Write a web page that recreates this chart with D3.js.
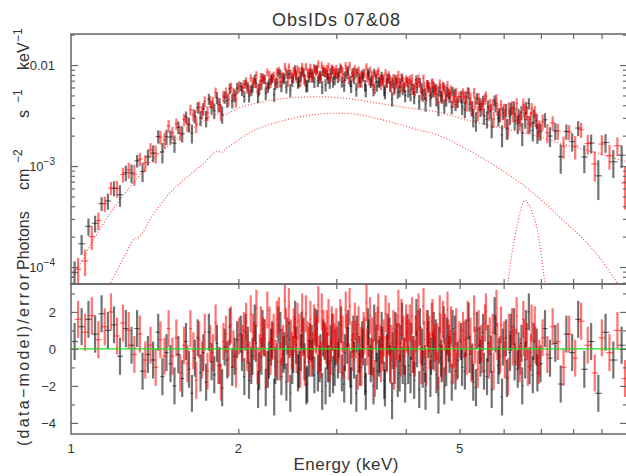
<!DOCTYPE html>
<html><head><meta charset="utf-8">
<script src="https://cdn.jsdelivr.net/npm/d3@7"></script>
<style>
body{margin:0;background:#fff}
svg{display:block}
text{font-family:"Liberation Sans",Arial,Helvetica,sans-serif;fill:#333}
</style>
</head><body>
<svg id="c" width="626" height="476"></svg>
<script>
// ---------------- data ----------------
const title = "ObsIDs 07&08";
const xLabel = "Energy (keV)";
const xTickLabels = [1, 2, 5];
const xMinorTicks = [2, 3, 4, 5, 6, 7, 8, 9];
// flux values are in units of 1e-3 photons cm^-2 s^-1 keV^-1
const fluxMajorTicks = [0.1, 1, 10];
const fluxTickText = [["10", "\u22124"], ["10", "\u22123"], ["0.01", ""]];
const fluxMinorTicks = [0.07,0.08,0.09,0.2,0.3,0.4,0.5,0.6,0.7,0.8,0.9,2,3,4,5,6,7,8,9,20];
const residMajorTicks = [-4, -2, 0, 2];
const residMinorTicks = [-3, -1, 1, 3];

// ObsID 07 (black) - channel group 1 (full band)
const blackE = [1.015,1.045,1.075,1.105,1.135,1.165,1.195,1.225,1.255,1.285,1.315,1.345,1.375,1.405,1.435,1.46,1.485,
1.51,1.535,1.56,1.585,1.61,1.63,1.65,1.67,1.69,1.71,1.73,1.75,1.77,1.79,1.81,1.83,1.85,1.87,1.89,1.91,1.93,1.95,1.97,1.99,
2.02,2.05,2.08,2.11,2.14,2.17,2.20,2.23,2.26,2.29,2.32,2.35,2.38,2.41,2.44,2.47,2.50,2.53,2.56,2.59,2.62,2.65,2.68,2.71,2.74,2.77,2.80,2.83,2.86,2.89,2.92,2.95,2.98,
3.02,3.06,3.10,3.14,3.18,3.22,3.26,3.30,3.34,3.38,3.42,3.46,3.50,3.54,3.58,3.62,3.66,3.70,3.74,3.78,3.82,3.86,3.90,3.94,3.98,
4.03,4.08,4.13,4.18,4.23,4.28,4.33,4.38,4.43,4.48,4.53,4.58,4.63,4.68,4.73,4.78,4.84,4.90,4.96,
5.03,5.11,5.19,5.27,5.35,5.43,5.51,5.60,5.69,5.78,5.87,5.96,6.06,6.16,6.26,6.36,6.46,6.56,6.66,6.77,6.88,6.99,
7.12,7.27,7.43,7.60,7.78,7.97,8.17,8.38,8.62,8.88,9.15,9.45,9.78];
const blackFlux = [0.088,0.17,0.253,0.271,0.425,0.451,0.604,0.52,0.857,0.856,1.126,0.882,1.234,1.347,1.96,1.38,1.95,
1.94,1.68,2.42,2.09,3.06,2.58,2.12,3.12,3.79,2.99,3.69,2.96,4.61,3.83,3.53,4.74,4.07,3.26,4.79,4.44,5.84,4.43,5.0,5.89,
6.15,4.89,6.13,5.59,7.33,4.92,6.4,7.25,6.06,7.13,5.1,6.69,8.21,7.25,6.06,8.07,6.93,9.11,6.68,7.68,8.51,6.21,7.56,8.32,6.8,9.08,7.39,6.05,8.49,8.04,6.71,8.9,7.21,
7.52,9.14,6.31,8.12,6.94,8.54,5.72,7.44,8.04,6.3,8.45,6.73,5.7,7.44,6.73,7.8,5.66,6.72,7.31,4.63,5.94,6.81,5.53,7.42,6.02,
6.87,5.1,5.83,7.19,4.34,5.89,5.2,6.43,4.53,5.46,5.86,3.76,4.98,6.01,4.49,5.18,3.84,5.24,4.33,
4.86,3.65,5.3,3.76,2.8,4.09,4.39,2.91,3.47,4.48,2.97,2.03,3.58,3.09,3.83,2.61,3.39,2.88,4.16,2.25,2.8,2.21,
2.87,1.98,2.23,1.24,2.2,1.75,2.38,1.23,1.69,0.8,1.71,1.1,1.28];
const blackErr = [.026,.038,.049,.051,.066,.081,.103,.125,.152,.18,.16,.19,.22,.255,.29,.32,.34,
.305,.33,.35,.38,.41,.43,.45,.47,.49,.51,.53,.55,.57,.6,.62,.64,.65,.64,.66,.68,.7,.72,.74,.77,
.62,.64,.66,.68,.7,.72,.74,.75,.76,.78,.79,.8,.81,.83,.83,.84,.85,.85,.86,.86,.87,.87,.88,.89,.89,.89,.89,.89,.89,.89,.89,.89,.89,
.89,.88,.88,.87,.87,.86,.86,.85,.84,.83,.82,.81,.8,.79,.78,.77,.76,.76,.75,.74,.73,.72,.71,.7,.69,
.74,.73,.73,.72,.71,.7,.69,.68,.67,.66,.66,.65,.64,.62,.61,.6,.59,.57,.56,
.69,.67,.65,.63,.61,.6,.58,.56,.55,.53,.51,.5,.55,.54,.54,.54,.55,.54,.53,.5,.47,.43,
.47,.44,.42,.4,.38,.36,.4,.38,.36,.34,.36,.34,.32];
const blackResid = [0.4,1.2,1.6,0.8,1.9,1.0,1.3,-0.4,1.1,0.2,1.1,-1.2,-0.3,-0.6,0.9,-1.5,-0.2,
-0.8,-2.0,-0.3,-1.6,0.4,-1.1,-2.4,-0.5,0.6,-1.3,-0.2,-1.8,0.9,-0.7,-1.4,0.3,-0.9,-2.1,0.1,-0.6,1.2,-1.0,-0.4,0.5,
0.8,-1.5,0.2,-0.9,1.4,-2.2,-0.4,0.6,-1.1,0.1,-2.6,-0.7,1.0,-0.3,-1.8,0.5,-0.9,1.6,-1.3,-0.2,0.7,-2.0,-0.5,0.3,-1.4,1.1,-0.8,-2.3,0.4,-0.1,-1.6,0.9,-1.0,
-0.6,1.3,-1.9,0.2,-1.1,0.8,-2.4,-0.3,0.5,-1.5,1.2,-0.8,-2.0,0.3,-0.5,1.0,-1.7,-0.2,0.7,-2.8,-0.9,0.4,-1.3,1.5,-0.4,
0.9,-1.4,-0.3,1.7,-2.2,0.1,-0.8,1.1,-1.6,-0.1,0.6,-2.5,-0.5,1.3,-1.0,0.3,-1.8,0.8,-0.6,
0.4,-1.2,1.5,-0.7,-2.1,0.2,0.9,-1.5,-0.3,1.8,-0.9,-2.6,0.6,-0.2,1.2,-1.1,0.3,-0.6,2.0,-1.4,0.1,-0.8,
1.1,-0.5,0.3,-1.9,0.8,-0.2,1.6,-1.1,0.4,-2.4,0.9,-0.6,0.2];
// ObsID 07 (black) - channel group 2 (extra channels, 2-7 keV)
const blackMidE = [2.03,2.06,2.09,2.12,2.15,2.18,2.21,2.24,2.27,2.30,2.33,2.36,2.39,2.42,2.45,2.48,2.51,2.54,2.57,2.60,2.63,2.66,2.69,2.72,2.75,2.78,2.81,2.84,2.87,2.90,2.93,2.96,2.99,
3.03,3.07,3.11,3.15,3.19,3.23,3.27,3.31,3.35,3.39,3.43,3.47,3.51,3.55,3.59,3.63,3.67,3.71,3.75,3.79,3.83,3.87,3.91,3.95,3.99,
4.042,4.092,4.142,4.192,4.242,4.292,4.342,4.392,4.442,4.492,4.542,4.592,4.642,4.692,4.742,4.795,4.855,4.915,
5.05,5.13,5.21,5.29,5.37,5.45,5.53,5.62,5.71,5.80,5.89,5.98,6.08,6.18,6.28,6.38,6.48,6.58,6.68,6.79,6.90];
const blackMidFlux = [5.57,6.49,4.93,5.97,6.61,5.71,7.54,5.25,6.49,7.47,6.47,8.34,6.2,7.44,8.16,5.65,7.46,7.94,6.87,8.74,7.31,6.3,8.37,7.6,9.14,6.94,7.92,8.65,6.35,7.42,8.39,6.85,8.17,
8.48,6.86,7.79,8.9,6.15,7.31,8.44,6.84,7.68,5.62,7.94,7.04,8.39,6.23,6.87,7.16,5.33,7.53,6.17,6.61,7.3,5.35,6.64,5.72,4.97,
5.51,6.39,4.81,5.95,6.73,5.03,4.14,6.0,5.31,6.17,4.53,5.5,4.77,3.93,5.5,4.79,5.51,4.07,
3.87,4.82,4.1,3.04,4.66,3.65,3.14,3.89,2.42,3.93,3.21,3.36,2.36,3.69,2.8,3.15,2.12,3.78,2.61,3.12,2.12];
const blackMidErr = [.63,.65,.67,.69,.7,.72,.74,.75,.76,.78,.79,.8,.82,.83,.83,.84,.85,.85,.86,.87,.87,.88,.88,.89,.89,.89,.89,.89,.89,.89,.89,.89,.89,
.88,.88,.88,.87,.87,.86,.85,.84,.84,.83,.82,.81,.8,.79,.78,.77,.76,.75,.74,.73,.72,.72,.71,.7,.69,
.74,.73,.72,.71,.71,.7,.69,.68,.67,.66,.65,.64,.63,.62,.61,.6,.58,.57,
.68,.66,.64,.63,.61,.59,.58,.56,.54,.53,.51,.5,.55,.54,.54,.54,.55,.54,.52,.5,.46];
const blackMidResid = [-0.2,0.9,-1.7,-0.4,0.3,-1.2,1.1,-2.1,-0.6,0.5,-0.9,1.3,-1.5,-0.1,0.7,-2.4,-0.3,0.2,-1.1,1.0,-0.7,-1.9,0.4,-0.5,1.2,-1.3,-0.2,0.6,-2.0,-0.8,0.3,-1.4,0.1,
0.5,-1.3,-0.2,1.1,-2.0,-0.6,0.8,-1.0,0.1,-2.3,0.6,-0.4,1.4,-1.2,-0.3,0.2,-2.1,0.9,-0.8,-0.1,1.0,-1.6,0.3,-0.9,-1.9,
-0.9,0.4,-1.7,0.0,1.2,-1.1,-2.3,0.5,-0.4,1.0,-1.4,0.2,-0.8,-2.0,0.7,-0.3,1.1,-1.2,
-1.0,0.6,-0.3,-1.8,1.0,-0.5,-1.2,0.3,-2.2,0.8,-0.4,0.1,-1.6,0.9,-0.7,-0.1,-2.0,1.1,-0.9,0.4,-1.3];

// ObsID 08 (red) - channel group 1 (full band)
const redE = [1.03,1.06,1.09,1.12,1.15,1.18,1.21,1.24,1.27,1.30,1.33,1.36,1.39,1.42,1.448,1.473,1.498,
1.522,1.547,1.572,1.597,1.62,1.64,1.66,1.68,1.70,1.72,1.74,1.76,1.78,1.80,1.82,1.84,1.86,1.88,1.90,1.92,1.94,1.96,1.98,2.005,
2.035,2.065,2.095,2.125,2.155,2.185,2.215,2.245,2.275,2.305,2.335,2.365,2.395,2.425,2.455,2.485,2.515,2.545,2.575,2.605,2.635,2.665,2.695,2.725,2.755,2.785,2.815,2.845,2.875,2.905,2.935,2.965,
3.0,3.04,3.08,3.12,3.16,3.20,3.24,3.28,3.32,3.36,3.40,3.44,3.48,3.52,3.56,3.60,3.64,3.68,3.72,3.76,3.80,3.84,3.88,3.92,3.96,4.005,
4.055,4.105,4.155,4.205,4.255,4.305,4.355,4.405,4.455,4.505,4.555,4.605,4.655,4.705,4.755,4.81,4.87,4.93,4.995,
5.07,5.15,5.23,5.31,5.39,5.47,5.555,5.645,5.735,5.825,5.915,6.01,6.11,6.21,6.31,6.41,6.51,6.61,6.715,6.825,6.935,7.05,
7.19,7.35,7.51,7.69,7.87,8.07,8.27,8.50,8.75,9.01,9.30,9.61,9.92];
const redFlux = [0.095,0.115,0.2,0.289,0.424,0.604,0.60,0.825,0.915,0.831,1.17,1.078,1.448,1.328,1.932,1.808,2.493,
2.12,2.62,2.13,2.88,2.63,3.6,3.22,2.6,3.83,3.41,4.36,3.35,4.34,4.21,5.35,4.02,3.43,4.92,5.32,4.58,5.99,5.22,4.56,6.13,
5.94,6.9,5.7,6.89,7.98,6.45,7.27,6.02,7.97,7.41,6.8,8.78,7.53,9.68,6.93,8.18,8.74,7.52,8.59,9.62,7.05,8.41,9.43,7.96,8.79,10.24,7.57,9.1,8.31,9.64,7.76,8.9,
9.14,7.77,8.7,9.82,7.31,8.32,9.11,6.72,7.83,8.41,9.58,7.09,7.91,5.97,8.19,7.31,6.84,8.35,7.27,6.07,7.45,6.56,8.04,6.05,6.89,7.22,
6.61,7.4,5.65,6.72,6.0,7.38,5.02,6.18,6.57,5.37,5.68,6.57,4.81,5.71,6.33,4.95,4.32,5.4,4.88,
5.2,4.12,4.71,5.32,3.36,4.1,4.61,3.36,4.07,4.62,3.23,3.57,2.4,3.85,3.24,2.78,4.1,3.37,2.92,3.47,2.24,2.74,
2.14,2.68,2.22,1.57,2.17,1.57,2.29,1.67,1.05,1.65,1.27,1.59,0.68];
const redErr = [.028,.034,.052,.057,.074,.092,.114,.139,.165,.196,.175,.204,.238,.272,.303,.33,.357,
.315,.34,.36,.39,.42,.44,.46,.48,.5,.52,.54,.56,.58,.61,.63,.64,.64,.65,.67,.69,.71,.73,.76,.78,
.63,.65,.67,.69,.71,.73,.74,.75,.77,.78,.79,.81,.82,.83,.84,.84,.85,.86,.86,.87,.87,.88,.88,.89,.89,.89,.89,.89,.89,.89,.89,.89,
.89,.88,.88,.88,.87,.87,.86,.85,.84,.83,.83,.82,.81,.8,.79,.78,.77,.76,.75,.74,.73,.72,.71,.71,.7,.69,
.74,.73,.72,.71,.7,.69,.69,.68,.67,.66,.65,.64,.63,.62,.61,.59,.58,.57,.55,
.68,.66,.64,.62,.6,.59,.57,.56,.54,.52,.51,.56,.55,.54,.54,.55,.55,.54,.51,.48,.45,.49,
.46,.43,.41,.39,.37,.41,.39,.37,.35,.37,.35,.33,.31];
const redResid = [1.6,0.9,1.8,0.5,1.2,2.0,0.7,1.4,1.0,-0.3,0.8,-0.6,0.2,-1.0,0.5,-0.4,1.1,
-0.4,0.6,-1.3,0.2,-0.8,1.1,-0.1,-1.7,0.5,-0.6,0.9,-1.2,0.3,-0.2,1.4,-0.9,-1.8,0.4,0.8,-0.5,1.3,0.0,-1.1,0.7,
0.3,1.5,-0.6,0.9,2.2,-0.2,0.7,-1.1,1.3,0.4,-0.5,1.8,0.1,2.6,-0.8,0.6,1.2,-0.3,0.9,2.0,-1.0,0.5,1.6,-0.1,0.8,2.4,-0.6,1.1,0.2,1.7,-0.4,0.9,
1.2,-0.3,0.8,2.1,-0.7,0.5,1.5,-1.2,0.2,1.0,2.5,-0.4,0.7,-1.6,1.3,0.3,-0.2,1.9,0.6,-0.9,1.1,0.0,2.2,-0.5,0.8,1.4,
0.6,1.8,-0.5,1.1,0.2,2.3,-1.0,0.8,1.5,-0.2,0.4,1.9,-0.7,0.9,2.1,0.0,-0.9,1.2,0.5,
1.0,-0.4,0.7,1.9,-1.1,0.3,1.4,-0.6,0.9,2.2,-0.3,0.5,-1.5,1.2,0.1,-0.8,1.6,0.4,-0.2,1.3,-0.9,0.6,
-0.3,1.2,0.4,-1.0,0.8,-0.5,1.5,0.2,-1.3,0.6,-0.2,1.0,-1.6];
// ObsID 08 (red) - channel group 2 (extra channels, 2-7 keV)
const redMidE = [2.045,2.075,2.105,2.135,2.165,2.195,2.225,2.255,2.285,2.315,2.345,2.375,2.405,2.435,2.465,2.495,2.525,2.555,2.585,2.615,2.645,2.675,2.705,2.735,2.765,2.795,2.825,2.855,2.885,2.915,2.945,2.975,
3.01,3.05,3.09,3.13,3.17,3.21,3.25,3.29,3.33,3.37,3.41,3.45,3.49,3.53,3.57,3.61,3.65,3.69,3.73,3.77,3.81,3.85,3.89,3.93,3.97,4.015,
4.068,4.118,4.168,4.218,4.268,4.318,4.368,4.418,4.468,4.518,4.568,4.618,4.668,4.718,4.77,4.825,4.885,4.945,
5.09,5.17,5.25,5.33,5.41,5.49,5.575,5.665,5.755,5.845,5.935,6.03,6.13,6.23,6.33,6.43,6.53,6.63,6.735,6.845,6.955];
const redMidFlux = [6.46,5.85,7.44,6.6,5.84,7.6,7.23,8.48,6.69,7.83,8.51,6.79,7.73,8.55,9.56,7.61,8.42,9.08,6.89,8.42,9.59,8.17,7.59,9.31,8.71,7.83,9.89,8.57,9.11,7.42,9.28,8.45,
8.24,9.52,7.46,8.75,9.91,7.69,8.23,8.83,6.8,8.14,7.56,8.86,6.91,8.03,8.72,6.44,7.43,6.66,7.93,6.94,5.75,7.19,6.74,7.58,6.03,6.78,
7.18,5.85,6.57,7.34,5.21,6.12,6.44,5.55,6.69,5.68,4.62,5.91,6.24,4.88,5.39,5.7,4.81,4.3,
4.83,5.39,3.73,4.23,4.66,3.73,4.92,4.06,2.92,3.67,4.01,2.94,3.72,3.25,4.16,3.0,3.54,2.6,3.7,2.92,2.39];
const redMidErr = [.64,.66,.68,.7,.71,.73,.75,.76,.77,.78,.8,.81,.82,.83,.84,.85,.85,.86,.86,.87,.87,.88,.88,.89,.89,.89,.89,.89,.89,.89,.89,.89,
.89,.88,.88,.88,.87,.86,.86,.85,.84,.83,.82,.81,.81,.8,.79,.78,.77,.76,.75,.74,.73,.72,.71,.7,.69,.69,
.74,.73,.72,.71,.7,.69,.68,.67,.67,.66,.65,.64,.63,.62,.6,.59,.58,.56,
.67,.65,.63,.62,.6,.58,.57,.55,.53,.52,.5,.56,.55,.54,.54,.55,.55,.53,.51,.48,.44];
const redMidResid = [1.0,-0.2,1.9,0.4,-0.9,1.3,0.6,2.1,-0.4,0.9,1.6,-0.7,0.3,1.2,2.3,-0.1,0.8,1.5,-1.1,0.6,1.9,0.2,-0.5,1.4,0.7,-0.3,2.0,0.5,1.1,-0.8,1.3,0.4,
0.2,1.7,-0.6,0.9,2.3,-0.2,0.5,1.3,-1.0,0.7,0.1,1.8,-0.5,1.0,2.0,-0.8,0.6,-0.3,1.5,0.3,-1.2,0.9,0.4,1.7,-0.4,0.8,
1.4,-0.3,0.8,2.0,-0.9,0.5,1.1,-0.1,1.7,0.3,-1.2,0.9,1.6,-0.4,0.6,1.3,0.0,-0.7,
0.5,1.6,-0.8,0.2,1.1,-0.3,2.0,0.7,-1.2,0.4,1.3,-0.6,0.9,0.1,1.8,-0.4,0.6,-1.0,1.4,0.2,-0.5];

// model components (dotted)
const softE = [1.0,1.05,1.1,1.2,1.3,1.4,1.5,1.6,1.7,1.84,1.86,2.0,2.2,2.5,2.8,3.2,3.6,4.0,4.6,5.1,5.8,6.7,7.7,8.8,10.0];
const softF = [0.075,0.12,0.19,0.40,0.70,1.15,1.6,2.1,2.6,3.25,3.15,3.75,4.3,4.75,4.85,4.6,4.15,3.8,3.4,2.9,2.45,2.05,1.65,1.35,1.1];
const hardE = [1.15,1.175,1.25,1.30,1.32,1.4,1.51,1.6,1.73,1.84,1.86,1.9,2.1,2.4,2.77,2.95,3.18,3.64,4.19,4.6,5.07,5.83,6.7,7.68,8.83,9.6,10.0];
const hardF = [0.055,0.068,0.13,0.19,0.195,0.32,0.55,0.74,1.05,1.4,1.36,1.48,2.15,2.8,3.25,3.33,3.3,2.85,2.3,2.0,1.54,0.98,0.57,0.29,0.134,0.07,0.052];
const lineE = [6.05,6.1,6.2,6.34,6.45,6.56,6.67,6.78,6.88,7.0,7.12,7.16];
const lineF = [0.055,0.068,0.13,0.25,0.38,0.46,0.41,0.33,0.25,0.14,0.068,0.055];

// ---------------- layout ----------------
const L = 71, R = 627, T = 34, M = 284, B = 434;
const frameColor = "#666";
const svg = d3.select("#c");

const x = d3.scaleLog().domain([1, 10]).range([L, R]);
const yF = d3.scaleLog().domain([0.0679, 20.3]).range([M, T]);
const yR = d3.scaleLinear().domain([-4.6, 3.51]).range([B, M]);

const defs = svg.append("defs");
defs.append("clipPath").attr("id", "cu").append("rect").attr("x", L).attr("y", T).attr("width", R - L).attr("height", M - T);
defs.append("clipPath").attr("id", "cl").append("rect").attr("x", L).attr("y", M).attr("width", R - L).attr("height", B - M);

function makeBins(groups) {
  const pts = [];
  groups.forEach(([E, F, Er, Rs]) => E.forEach((e, i) => pts.push({e, f: F[i], err: Er[i], r: Rs[i]})));
  pts.sort((a, b) => a.e - b.e);
  pts.forEach((p, i) => {
    const prev = i > 0 ? pts[i - 1].e : null, next = i < pts.length - 1 ? pts[i + 1].e : null;
    p.lo = prev !== null ? (prev + p.e) / 2 : p.e - (next - p.e) / 2;
    p.hi = next !== null ? (p.e + next) / 2 : p.e + (p.e - prev) / 2;
  });
  return pts.filter(p => isFinite(p.f) && isFinite(p.r) && isFinite(p.err));
}
const series = [
  {bins: makeBins([[blackE, blackFlux, blackErr, blackResid], [blackMidE, blackMidFlux, blackMidErr, blackMidResid]]), color: "#000", op: 0.55},
  {bins: makeBins([[redE, redFlux, redErr, redResid], [redMidE, redMidFlux, redMidErr, redMidResid]]), color: "#ff0000", op: 0.55}
];
const barW = 2.2;

// ---------- upper panel ----------
const up = svg.append("g").attr("clip-path", "url(#cu)");
const line = d3.line().x(d => x(d[0])).y(d => yF(d[1])).curve(d3.curveMonotoneX);
[[softE, softF], [hardE, hardF], [lineE, lineF]].forEach(([E, F]) => {
  up.append("path").attr("d", line(E.map((e, i) => [e, F[i]])))
    .attr("fill", "none").attr("stroke", "#ff2020").attr("stroke-width", 1.1)
    .attr("stroke-dasharray", "1,2").attr("opacity", 0.85);
});
series.forEach(s => {
  const g = up.append("g").attr("stroke", s.color).attr("stroke-opacity", s.op);
  g.selectAll(".v").data(s.bins).join("line")
    .attr("x1", d => x(d.e)).attr("x2", d => x(d.e))
    .attr("y1", d => yF(Math.max(d.f - d.err, 0.01))).attr("y2", d => yF(d.f + d.err))
    .attr("stroke-width", barW);
  g.selectAll(".h").data(s.bins).join("line")
    .attr("x1", d => x(d.lo)).attr("x2", d => x(d.hi))
    .attr("y1", d => yF(d.f)).attr("y2", d => yF(d.f))
    .attr("stroke-width", 1.2);
});

// ---------- lower panel ----------
const lo = svg.append("g").attr("clip-path", "url(#cl)");
series.forEach(s => {
  const g = lo.append("g").attr("stroke", s.color).attr("stroke-opacity", s.op);
  g.selectAll(".v").data(s.bins).join("line")
    .attr("x1", d => x(d.e)).attr("x2", d => x(d.e))
    .attr("y1", d => yR(d.r - 1)).attr("y2", d => yR(d.r + 1))
    .attr("stroke-width", barW);
  g.selectAll(".h").data(s.bins).join("line")
    .attr("x1", d => x(d.lo)).attr("x2", d => x(d.hi))
    .attr("y1", d => yR(d.r)).attr("y2", d => yR(d.r))
    .attr("stroke-width", 1.2);
});
lo.append("line").attr("x1", L).attr("x2", R).attr("y1", yR(0)).attr("y2", yR(0))
  .attr("stroke", "#22dd22").attr("stroke-width", 1.3);

// ---------- frames & ticks ----------
function tickAxis(axis, tx, ty) {
  const g = svg.append("g").attr("transform", `translate(${tx},${ty})`).call(axis);
  g.select(".domain").remove();
  g.selectAll("text").remove();
  g.selectAll("line").attr("stroke", frameColor).attr("stroke-width", 1.2);
  return g;
}
tickAxis(d3.axisTop(x).tickValues(xMinorTicks).tickSize(-5), 0, T);
tickAxis(d3.axisBottom(x).tickValues(xMinorTicks).tickSize(-5), 0, M);
tickAxis(d3.axisTop(x).tickValues(xMinorTicks).tickSize(-5), 0, M);
tickAxis(d3.axisBottom(x).tickValues(xMinorTicks).tickSize(-5), 0, B);
tickAxis(d3.axisLeft(yF).tickValues(fluxMajorTicks).tickSize(-7), L, 0);
tickAxis(d3.axisLeft(yF).tickValues(fluxMinorTicks).tickSize(-4), L, 0);
tickAxis(d3.axisRight(yF).tickValues(fluxMajorTicks).tickSize(-7), R, 0);
tickAxis(d3.axisRight(yF).tickValues(fluxMinorTicks).tickSize(-4), R, 0);
tickAxis(d3.axisLeft(yR).tickValues(residMajorTicks).tickSize(-7), L, 0);
tickAxis(d3.axisLeft(yR).tickValues(residMinorTicks).tickSize(-4), L, 0);
tickAxis(d3.axisRight(yR).tickValues(residMajorTicks).tickSize(-7), R, 0);
tickAxis(d3.axisRight(yR).tickValues(residMinorTicks).tickSize(-4), R, 0);

svg.append("rect").attr("x", L).attr("y", T).attr("width", R - L).attr("height", M - T)
  .attr("fill", "none").attr("stroke", frameColor).attr("stroke-width", 1.5);
svg.append("rect").attr("x", L).attr("y", M).attr("width", R - L).attr("height", B - M)
  .attr("fill", "none").attr("stroke", frameColor).attr("stroke-width", 1.5);

// ---------- tick labels ----------
svg.append("g").selectAll("text").data(xTickLabels).join("text")
  .attr("x", d => x(d)).attr("y", 453).attr("text-anchor", "middle")
  .attr("font-size", 13).text(d => d);

const fl = svg.append("g").selectAll("text").data(fluxMajorTicks).join("text")
  .attr("x", 55).attr("y", d => yF(d) + 5).attr("text-anchor", "end").attr("font-size", 13);
fl.each(function(d, i) {
  const t = d3.select(this);
  t.append("tspan").text(fluxTickText[i][0]);
  if (fluxTickText[i][1]) t.append("tspan").attr("dy", -6).attr("font-size", 10).text(fluxTickText[i][1]);
});

svg.append("g").selectAll("text").data(residMajorTicks).join("text")
  .attr("x", 56).attr("y", d => yR(d) + 5).attr("text-anchor", "end")
  .attr("font-size", 13).text(d => d < 0 ? "\u2212" + Math.abs(d) : d);

// ---------- titles ----------
svg.append("text").attr("x", 336).attr("y", 26).attr("text-anchor", "middle")
  .attr("font-size", 18).attr("textLength", 128).attr("lengthAdjust", "spacing").text(title);
svg.append("text").attr("x", 346).attr("y", 470).attr("text-anchor", "middle")
  .attr("font-size", 17).attr("textLength", 105).attr("lengthAdjust", "spacing").text(xLabel);

const yl = svg.append("g").attr("transform", "translate(29,0) rotate(-90)");
const ylt = yl.append("text").attr("font-size", 16);
[["Photons", 270, 0, 16], ["cm", 190, 0, 16], ["\u22122", 163, -7, 12], ["s", 118, 0, 16],
 ["\u22121", 103, -7, 12], ["keV", 70, 0, 16], ["\u22121", 42, -7, 12]].forEach(p => {
  ylt.append("tspan").attr("x", -p[1]).attr("y", p[2]).attr("font-size", p[3]).text(p[0]);
});
yl.append("text").attr("x", -446).attr("y", 0).attr("font-size", 16)
  .attr("textLength", 172).attr("lengthAdjust", "spacing").text("(data\u2212model)/error");
</script>
</body></html>
